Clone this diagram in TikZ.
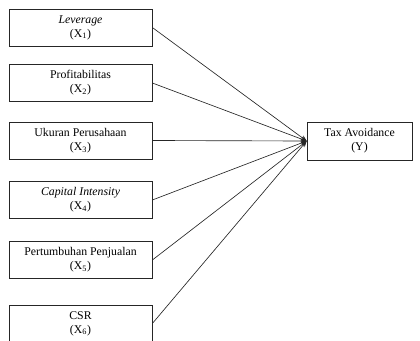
\documentclass[tikz,border=0pt]{standalone}
\usepackage{fontspec}
\setmainfont{Liberation Serif}
\usetikzlibrary{arrows.meta}
\begin{document}
\begin{tikzpicture}[x=1pt,y=-1pt,
  varbox/.style={draw=black!85,line width=0.7pt,minimum width=143pt,minimum height=37pt,
    align=center,inner sep=0pt,font=\fontsize{11.8}{14}\selectfont},
  link/.style={draw=black!85,line width=0.65pt,-{Stealth[length=6pt,width=5pt]}}]
\useasboundingbox (0,0) rectangle (420,340);
\clip (0,0) rectangle (420,340);
\node[varbox] (x1) at (80.5,27.5) {\textit{Leverage}\\(X\textsubscript{1})};
\node[varbox] (x2) at (80.5,83) {Profitabilitas\\(X\textsubscript{2})};
\node[varbox] (x3) at (80.5,140.5) {Ukuran Perusahaan\\(X\textsubscript{3})};
\node[varbox] (x4) at (80.5,200) {\textit{Capital Intensity}\\(X\textsubscript{4})};
\node[varbox] (x5) at (80.5,260) {Pertumbuhan Penjualan\\(X\textsubscript{5})};
\node[varbox] (x6) at (80.5,323.5) {CSR\\(X\textsubscript{6})};
\node[varbox,minimum width=105pt,minimum height=38pt] (y) at (359.5,141) {Tax Avoidance\\(Y)};
\foreach \n in {x1,x2,x3,x4,x5,x6}
  \draw[link] (\n.east) -- (y.west);
\end{tikzpicture}
\end{document}
